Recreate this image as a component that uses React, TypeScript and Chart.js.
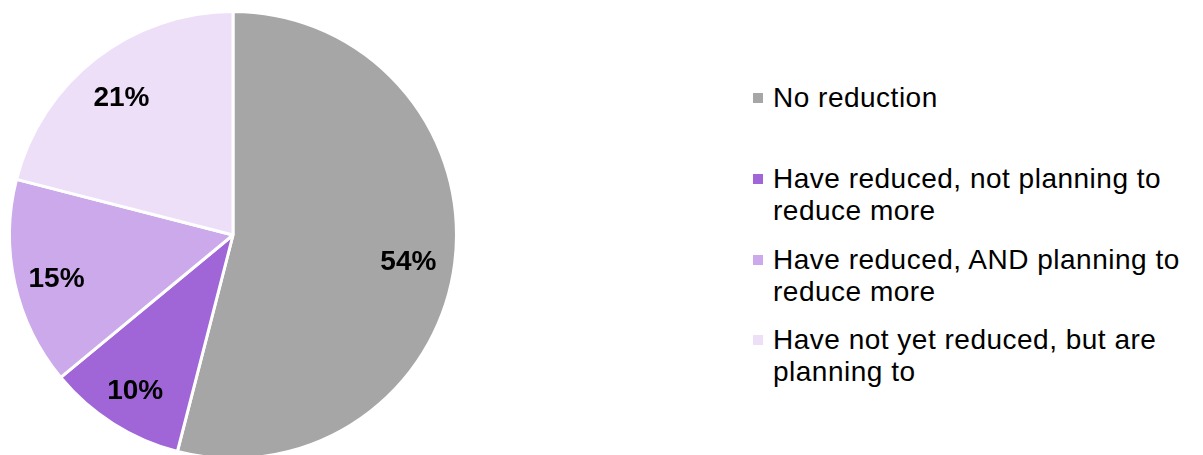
import React, { useEffect, useRef } from "react";
import { Chart, registerables } from "chart.js";

Chart.register(...registerables);

const categories = [
  "No reduction",
  "Have reduced, not planning to reduce more",
  "Have reduced, AND planning to reduce more",
  "Have not yet reduced, but are planning to",
];
const values = [54, 10, 15, 21];
const valueLabels = ["54%", "10%", "15%", "21%"];
const colors = ["#A6A6A6", "#A066D8", "#CBA9EA", "#EEDFF8"];

const FONT = '"Liberation Sans", Arial, sans-serif';

const labelPlugin = {
  id: "sliceLabels",
  afterDatasetsDraw(chart: any) {
    const ctx = chart.ctx;
    const meta = chart.getDatasetMeta(0);
    ctx.save();
    ctx.font = `bold 28px ${FONT}`;
    ctx.fillStyle = "#000000";
    ctx.textAlign = "center";
    ctx.textBaseline = "middle";
    meta.data.forEach((arc: any, i: number) => {
      const p = arc.getProps(["x", "y", "startAngle", "endAngle", "outerRadius"], true);
      const mid = (p.startAngle + p.endAngle) / 2;
      const r = p.outerRadius * 0.8;
      const x = p.x + Math.cos(mid) * r;
      const y = p.y + Math.sin(mid) * r;
      ctx.fillText(valueLabels[i], x - 2, y + 5);
    });
    ctx.restore();
  },
};

export default function App() {
  const canvasRef = useRef<HTMLCanvasElement | null>(null);

  useEffect(() => {
    if (!canvasRef.current) return;
    const chart = new Chart(canvasRef.current, {
      type: "pie",
      data: {
        labels: categories,
        datasets: [
          {
            data: values,
            backgroundColor: colors,
            borderColor: "#FFFFFF",
            borderWidth: 3,
          },
        ],
      },
      options: {
        animation: false,
        responsive: false,
        maintainAspectRatio: false,
        layout: { padding: 8 },
        plugins: {
          legend: { display: false },
          tooltip: { enabled: false },
        },
      },
      plugins: [labelPlugin],
    });
    return () => chart.destroy();
  }, []);

  const pitch = 80.7;
  const firstTop = 82.3;

  return (
    <div
      style={{
        position: "fixed",
        left: 0,
        top: 0,
        width: 1203,
        height: 455,
        overflow: "hidden",
        background: "#FFFFFF",
      }}
    >
      <canvas
        ref={canvasRef}
        width={466}
        height={470}
        style={{ position: "absolute", left: 0, top: 0, width: 466, height: 470 }}
      />
      {categories.map((c, i) => (
        <div
          key={c}
          style={{
            position: "absolute",
            left: 753,
            top: firstTop + pitch * i,
            width: 440,
          }}
        >
          <div
            style={{
              position: "absolute",
              left: 0,
              top: 11,
              width: 10,
              height: 10,
              background: colors[i],
            }}
          />
          <div
            style={{
              marginLeft: 20,
              width: 418,
              fontFamily: FONT,
              fontSize: 28,
              lineHeight: "32px",
              color: "#000000",
              letterSpacing: 0.5,
            }}
          >
            {c}
          </div>
        </div>
      ))}
    </div>
  );
}
